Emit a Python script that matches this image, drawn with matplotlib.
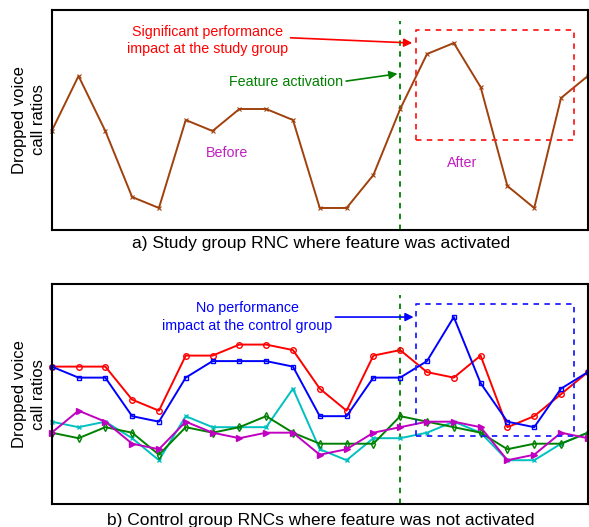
import numpy as np
import matplotlib.pyplot as plt

plt.rcParams['font.family'] = ['Liberation Sans', 'DejaVu Sans']

# sample index along the time axis
x = np.arange(21)

# a) study group RNC
study = [9, 14, 9, 3, 2, 10, 9, 11, 11, 10, 2, 2, 5, 11, 16, 17, 13, 4, 2, 12, 14]

# b) control group RNCs
ctrl_red = [12.5, 12.5, 12.5, 9.5, 8.5, 13.5, 13.5, 14.5, 14.5, 14, 10.5, 8.5, 13.5, 14, 12, 11.5, 13.5, 7, 8, 10, 12]
ctrl_blue = [12.5, 11.5, 11.5, 8, 7.5, 11.5, 13, 13, 13, 12.5, 8, 8, 11.5, 11.5, 13, 17, 11, 7.5, 7, 10.5, 12]
ctrl_cyan = [7.5, 7, 7.5, 6, 4, 8, 7, 7, 7, 10.5, 5, 4, 6, 6, 6.5, 7.5, 6.5, 4, 4, 5.5, 6.5]
ctrl_green = [6.5, 6, 7, 6.5, 4.5, 7, 6.5, 7, 8, 6.5, 5.5, 5.5, 5.5, 8, 7.5, 7, 6.5, 5, 5.5, 5.5, 6.5]
ctrl_magenta = [6.5, 8.5, 7.5, 5.5, 5, 7.5, 6.5, 6, 6.5, 6.5, 4.5, 5, 6.5, 7, 7.5, 7.5, 7, 4, 4.5, 6.5, 6]

activation = 13
box_x = (13.6, 19.5)
box_y = (8.15, 18.2)
box_y_ctrl = (6.2, 18.2)

fig = plt.figure(figsize=(5.89, 5.27), dpi=100)
ax1 = fig.add_axes([0.0878, 0.5636, 0.9102, 0.4174])
ax2 = fig.add_axes([0.0878, 0.0431, 0.9102, 0.4180])

for ax in (ax1, ax2):
    ax.set_xlim(0, 20)
    ax.set_ylim(0, 20)
    ax.set_xticks([])
    ax.set_yticks([])
    for s in ax.spines.values():
        s.set_linewidth(1.5)
    ax.set_ylabel('Dropped voice\ncall ratios', fontsize=12, labelpad=4, linespacing=1.35)
    ax.plot([activation, activation], [0, 19], color='green', ls=(0, (3, 3)), lw=1.3)

# ---- top panel ----
ax1.plot(x, study, color='#a0410d', lw=1.4, marker='x', ms=2.5, mew=0.8, clip_on=False)
ax1.plot([box_x[0], box_x[1], box_x[1], box_x[0], box_x[0]],
         [box_y[0], box_y[0], box_y[1], box_y[1], box_y[0]],
         color='#ff2020', ls=(0, (3, 3)), lw=1.3)
ax1.annotate('Significant performance\nimpact at the study group', xy=(13.45, 17.0), xytext=(5.8, 17.2),
             color='red', fontsize=10.3, ha='center', va='center', linespacing=1.3,
             arrowprops=dict(arrowstyle='-|>', color='red', lw=1.2, shrinkA=0, shrinkB=0,
                             relpos=(1.0, 0.6), mutation_scale=12))
ax1.annotate('Feature activation', xy=(12.9, 14.2), xytext=(8.75, 13.5),
             color='green', fontsize=10.3, ha='center', va='center',
             arrowprops=dict(arrowstyle='-|>', color='green', lw=1.2, shrinkA=0, shrinkB=0,
                             relpos=(1.0, 0.5), mutation_scale=12))
ax1.text(6.55, 7.0, 'Before', color='#c020c0', fontsize=10.3, ha='center', va='center')
ax1.text(15.3, 6.1, 'After', color='#c020c0', fontsize=10.3, ha='center', va='center')

# ---- bottom panel ----
ax2.plot(x, ctrl_red, color='red', lw=1.4, marker='o', ms=4, mfc='none', mew=1, clip_on=False)
ax2.plot(x, ctrl_blue, color='blue', lw=1.4, marker='s', ms=3.5, mfc='none', mew=1, clip_on=False)
ax2.plot(x, ctrl_cyan, color='#00c0c0', lw=1.4, marker='x', ms=3, mew=1, clip_on=False)
ax2.plot(x, ctrl_green, color='green', lw=1.4, marker='d', ms=4, mfc='none', mew=1, clip_on=False)
ax2.plot(x, ctrl_magenta, color='#c000c0', lw=1.4, marker='>', ms=4, clip_on=False)
ax2.plot([box_x[0], box_x[1], box_x[1], box_x[0], box_x[0]],
         [box_y_ctrl[0], box_y_ctrl[0], box_y_ctrl[1], box_y_ctrl[1], box_y_ctrl[0]],
         color='#2020ff', ls=(0, (3, 3)), lw=1.3)
ax2.annotate('No performance\nimpact at the control group', xy=(13.5, 17.0), xytext=(7.3, 17.0),
             color='blue', fontsize=10.3, ha='center', va='center', linespacing=1.3,
             arrowprops=dict(arrowstyle='-|>', color='blue', lw=1.2, shrinkA=0, shrinkB=0,
                             relpos=(1.0, 0.5), mutation_scale=12))

fig.text(0.545, 1 - 243 / 527, 'a) Study group RNC where feature was activated',
         fontsize=12.5, ha='center', va='center')
fig.text(0.545, 1 - 520 / 527, 'b) Control group RNCs where feature was not activated',
         fontsize=12.5, ha='center', va='center')

fig.savefig('out.png', dpi=100)
